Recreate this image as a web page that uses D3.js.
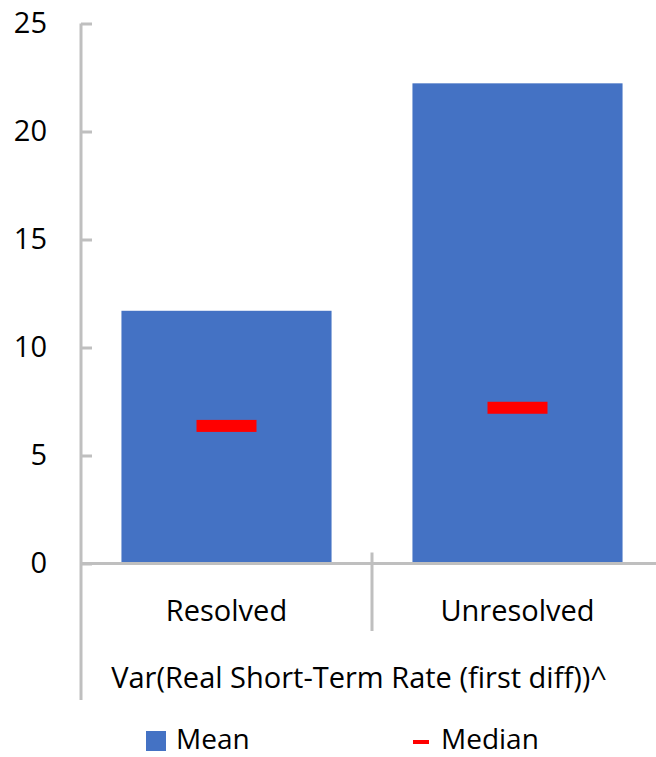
<!DOCTYPE html>
<html>
<head>
<meta charset="utf-8">
<script src="https://cdn.jsdelivr.net/npm/d3@7"></script>
<style>
  body { margin: 0; background: #fff; }
  text { font-family: "Open Sans", "Noto Sans", sans-serif; fill: #000; }
</style>
</head>
<body>
<div id="chart"></div>
<script>
(function(d3) {

var categories = ['Resolved', 'Unresolved'];
var meanValues = [11.7, 22.23];
var medianValues = [6.37, 7.21];
var yTicks = [0, 5, 10, 15, 20, 25];
var groupLabel = 'Var(Real Short-Term Rate (first diff))^';
var legendLabels = ['Mean', 'Median'];

var width = 656;
var height = 757;
var fontSize = 29;
var axisColor = '#bfbfbf';

var svg = d3.select('#chart')
  .append('svg')
  .attr('width', width)
  .attr('height', height);

var x = d3.scaleBand()
  .domain(categories)
  .range([81, 663])
  .paddingInner(0.278)
  .paddingOuter(0.139);

var y = d3.scaleLinear()
  .domain([0, 25])
  .range([563.5, 23.5]);

// bars (mean)
svg.selectAll('.bar')
  .data(categories)
  .enter()
  .append('rect')
  .attr('class', 'bar')
  .attr('x', function(d) { return x(d); })
  .attr('width', x.bandwidth())
  .attr('y', function(d, i) { return y(meanValues[i]); })
  .attr('height', function(d, i) { return y(0) - y(meanValues[i]); })
  .style('fill', '#4472c4');

// median marks
var medW = 60, medH = 12;
svg.selectAll('.median')
  .data(categories)
  .enter()
  .append('rect')
  .attr('class', 'median')
  .attr('x', function(d) { return x(d) + x.bandwidth() / 2 - medW / 2; })
  .attr('y', function(d, i) { return y(medianValues[i]) - medH / 2; })
  .attr('width', medW)
  .attr('height', medH)
  .style('fill', '#ff0000');

// y axis
var yAxis = d3.axisLeft(y)
  .tickValues(yTicks)
  .tickSizeInner(-11)
  .tickSizeOuter(0)
  .tickPadding(34);

var gy = svg.append('g')
  .attr('transform', 'translate(81,0)')
  .call(yAxis);
gy.select('.domain').remove();
gy.selectAll('.tick line')
  .attr('stroke', axisColor)
  .attr('stroke-width', 3);
gy.selectAll('.tick text')
  .style('font-size', fontSize + 'px')
  .style('font-family', '"Open Sans", "Noto Sans", sans-serif')
  .attr('fill', '#000');

var axisBottom = 700;
svg.append('line')
  .attr('x1', 81).attr('x2', 81)
  .attr('y1', y(25)).attr('y2', axisBottom)
  .attr('stroke', axisColor)
  .attr('stroke-width', 3);

// baseline
svg.append('line')
  .attr('x1', 81).attr('x2', width)
  .attr('y1', y(0)).attr('y2', y(0))
  .attr('stroke', axisColor)
  .attr('stroke-width', 3);

// category dividers
var step = x.step();
categories.slice(1).forEach(function(c) {
  var xd = x(c) - x.paddingInner() * step / 2;
  svg.append('line')
    .attr('x1', xd).attr('x2', xd)
    .attr('y1', y(0) - 11).attr('y2', 631)
    .attr('stroke', axisColor)
    .attr('stroke-width', 3);
});

// category labels
svg.selectAll('.cat')
  .data(categories)
  .enter()
  .append('text')
  .attr('class', 'cat')
  .attr('x', function(d) { return x(d) + x.bandwidth() / 2; })
  .attr('y', 620.5)
  .attr('text-anchor', 'middle')
  .style('font-size', fontSize + 'px')
  .text(function(d) { return d; });

svg.append('text')
  .attr('x', 359)
  .attr('y', 688)
  .attr('text-anchor', 'middle')
  .style('font-size', fontSize + 'px')
  .text(groupLabel);

// legend
var legend = svg.append('g');
legend.append('rect')
  .attr('x', 146).attr('y', 731)
  .attr('width', 20).attr('height', 20)
  .style('fill', '#4472c4');
legend.append('text')
  .attr('x', 176)
  .attr('y', 749)
  .style('font-size', '28px')
  .text(legendLabels[0]);
legend.append('rect')
  .attr('x', 413).attr('y', 740)
  .attr('width', 16).attr('height', 4)
  .style('fill', '#ff0000');
legend.append('text')
  .attr('x', 441)
  .attr('y', 749)
  .style('font-size', '28px')
  .text(legendLabels[1]);

})(window.d3);
</script>
</body>
</html>
